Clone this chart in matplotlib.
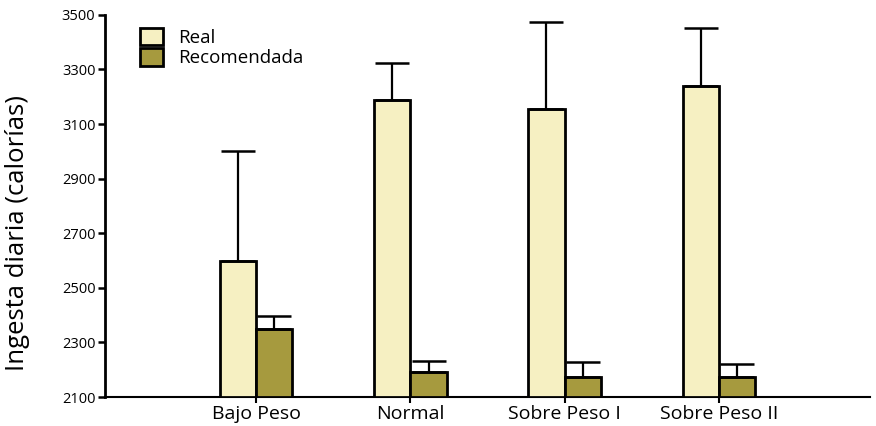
import matplotlib
matplotlib.use("Agg")
import matplotlib.pyplot as plt
import numpy as np

# mean daily intake by weight group, with the upper error bar end
groups = ["Bajo Peso", "Normal", "Sobre Peso I", "Sobre Peso II"]
real = [2600, 3190, 3155, 3240]
real_top = [3000, 3325, 3475, 3452]
recomendada = [2350, 2192, 2172, 2172]
recomendada_top = [2397, 2232, 2228, 2222]

REAL_C = "#f6f0c2"
REC_C = "#a69a3e"

plt.rcParams.update({"font.family": ["Open Sans", "DejaVu Sans"]})
fig = plt.figure(figsize=(8.76, 4.26), dpi=100, facecolor="white")
ax = fig.add_axes([0.12, 0.068, 0.873, 0.897])

x = np.arange(1, len(groups) + 1)
w = 0.235
base = 2100

real_err = [np.zeros(len(real)), np.array(real_top) - np.array(real)]
rec_err = [np.zeros(len(recomendada)), np.array(recomendada_top) - np.array(recomendada)]

ax.bar(x - w / 2, np.array(real) - base, w, bottom=base, color=REAL_C,
       edgecolor="black", linewidth=2, label="Real", zorder=3,
       yerr=real_err, error_kw=dict(ecolor="black", elinewidth=1.6,
                                    capsize=12.5, capthick=1.8))
ax.bar(x + w / 2, np.array(recomendada) - base, w, bottom=base, color=REC_C,
       edgecolor="black", linewidth=2, label="Recomendada", zorder=3,
       yerr=rec_err, error_kw=dict(ecolor="black", elinewidth=1.6,
                                   capsize=12.5, capthick=1.8))

ax.set_xlim(0.02, 4.98)
ax.set_ylim(base, 3500)
ax.set_yticks(np.arange(2100, 3501, 200))
ax.set_xticks(x)
ax.set_xticklabels(groups, fontsize=14)
ax.tick_params(axis="y", labelsize=10.5, length=5, width=1.8, direction="out", pad=2)
ax.tick_params(axis="x", length=4, width=1.5, direction="out", pad=2)

for s in ("top", "right"):
    ax.spines[s].set_visible(False)
ax.spines["left"].set_linewidth(2)
ax.spines["bottom"].set_linewidth(1.5)

ax.set_ylabel("Ingesta diaria (calorías)", fontsize=18.5)
ax.yaxis.set_label_coords(-0.098, 0.43)

leg = ax.legend(loc="upper left", bbox_to_anchor=(0.034, 0.99), frameon=False,
                fontsize=13.5, handlelength=1.2, handleheight=1.05,
                handletextpad=0.8, labelspacing=0.05, borderpad=0)
for h in leg.legend_handles:
    h.set_linewidth(2)

fig.savefig("out.png", dpi=100, facecolor="white")
